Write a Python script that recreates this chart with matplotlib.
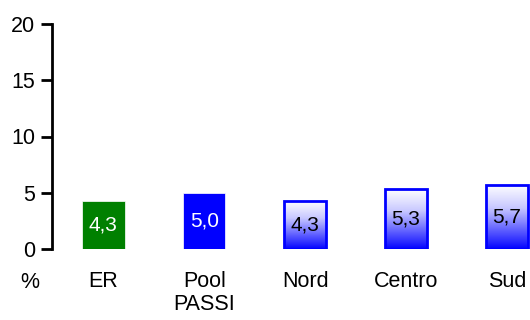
import numpy as np
import matplotlib.pyplot as plt
from matplotlib.colors import LinearSegmentedColormap

plt.rcParams['font.family'] = ['Liberation Sans', 'DejaVu Sans']

# Dati
categorie = ['ER', 'Pool\nPASSI', 'Nord', 'Centro', 'Sud']
valori = [4.3, 5.0, 4.3, 5.3, 5.7]
etichette = ['4,3', '5,0', '4,3', '5,3', '5,7']

fig = plt.figure(figsize=(5.3, 3.2), dpi=100)
ax = fig.add_axes([52 / 530, 71 / 320, 478 / 530, 225 / 320])

x = np.arange(len(categorie))
larghezza = 0.42
blu = '#0000ff'
verde = '#008000'

sfumatura = LinearSegmentedColormap.from_list('sfum', ['#0000ff', '#6060ff', '#c8c8ff', '#ffffff'])
grad = np.linspace(0, 1, 256).reshape(-1, 1) ** 0.9

for i, (v, lab) in enumerate(zip(valori, etichette)):
    if i == 0:
        ax.bar(x[i], v, width=larghezza, color=verde, edgecolor='white', linewidth=0.5, zorder=2)
        col_testo = 'white'
    elif i == 1:
        ax.bar(x[i], v, width=larghezza, color=blu, edgecolor='white', linewidth=0.5, zorder=2)
        col_testo = 'white'
    else:
        barra = ax.bar(x[i], v, width=larghezza, facecolor='none', edgecolor=blu, linewidth=2, zorder=3)[0]
        img = ax.imshow(grad, cmap=sfumatura, aspect='auto', origin='lower',
                        extent=(x[i] - larghezza / 2, x[i] + larghezza / 2, 0, v), zorder=2)
        img.set_clip_path(barra)
        col_testo = 'black'
    ax.text(x[i], v / 2, lab, ha='center', va='center', fontsize=15, color=col_testo, zorder=4)

ax.set_xlim(-0.51, 4.23)
ax.set_ylim(0, 20)
ax.set_yticks([0, 5, 10, 15, 20])
ax.set_xticks(x)
ax.set_xticklabels(categorie, fontsize=15.5, linespacing=1.1)
ax.tick_params(axis='x', length=0, pad=16)
ax.tick_params(axis='y', direction='out', length=8, width=2, labelsize=15.5, pad=4)
for s in ['top', 'right', 'bottom']:
    ax.spines[s].set_visible(False)
ax.spines['left'].set_linewidth(2)

fig.text(30 / 530, 1 - 283 / 320, '%', ha='center', va='center', fontsize=15.5)

fig.savefig('out.png', dpi=100)
